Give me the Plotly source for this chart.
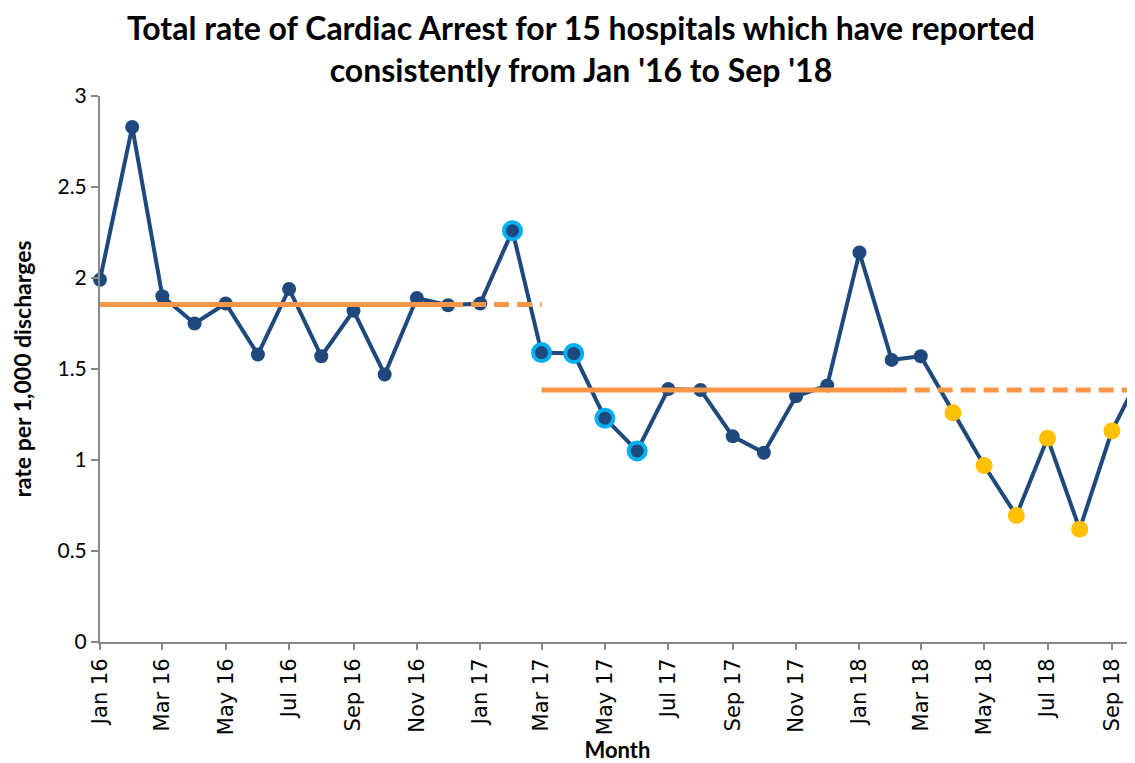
import pandas as pd
import plotly.graph_objects as go

# ---- data ----
months = list(pd.date_range("2016-01-01", "2018-10-01", freq="MS"))
rates = [1.99, 2.83, 1.90, 1.75, 1.86, 1.58, 1.94, 1.57, 1.82, 1.47, 1.89, 1.85,
         1.86, 2.26, 1.59, 1.585, 1.23, 1.05, 1.39, 1.385, 1.13, 1.04, 1.35, 1.41,
         2.14, 1.55, 1.57, 1.26, 0.97, 0.695, 1.12, 0.62, 1.16, 1.50]
cyan_months = ["2017-02", "2017-03", "2017-04", "2017-05", "2017-06"]
gold_months = ["2018-04", "2018-05", "2018-06", "2018-07", "2018-08", "2018-09"]

mean1 = 1.855
mean1_solid = ["2016-01", "2016-12"]
mean1_dash = ["2016-12", "2017-03"]
mean2 = 1.385
mean2_solid = ["2017-03", "2018-02"]
mean2_dash = ["2018-02", "2018-10"]

y_ticks = [0, 0.5, 1, 1.5, 2, 2.5, 3]
y_tick_labels = ["0", "0.5", "1", "1.5", "2", "2.5", "3"]

title_text = ("Total rate of Cardiac Arrest for 15 hospitals which have reported<br>"
              "consistently from Jan '16 to Sep '18")

BLUE = "#1F497D"
ORANGE = "#F79646"
CYAN = "#00B0F0"
GOLD = "#FFC000"

def pick(keys):
    xs, ys = [], []
    for m, r in zip(months, rates):
        if m.strftime("%Y-%m") in keys:
            xs.append(m)
            ys.append(r)
    return xs, ys

def seg(keys):
    return [pd.Timestamp(k + "-01") for k in keys]

fig = go.Figure()

fig.add_trace(go.Scatter(x=months, y=rates, mode="lines+markers",
                         line=dict(color=BLUE, width=4),
                         marker=dict(color=BLUE, size=14), cliponaxis=False,
                         hoverinfo="x+y", showlegend=False))

fig.add_trace(go.Scatter(x=seg(mean1_solid), y=[mean1, mean1], mode="lines",
                         line=dict(color=ORANGE, width=5), showlegend=False))
fig.add_trace(go.Scatter(x=seg(mean1_dash), y=[mean1, mean1], mode="lines",
                         line=dict(color=ORANGE, width=5, dash="15px,8px"), showlegend=False))
fig.add_trace(go.Scatter(x=seg(mean2_solid), y=[mean2, mean2], mode="lines",
                         line=dict(color=ORANGE, width=5), showlegend=False))
fig.add_trace(go.Scatter(x=seg(mean2_dash), y=[mean2, mean2], mode="lines",
                         line=dict(color=ORANGE, width=5, dash="15px,8px"), showlegend=False))

cx, cy = pick(cyan_months)
fig.add_trace(go.Scatter(x=cx, y=cy, mode="markers",
                         marker=dict(color=BLUE, size=17, line=dict(color=CYAN, width=4)),
                         showlegend=False))
gx, gy = pick(gold_months)
fig.add_trace(go.Scatter(x=gx, y=gy, mode="markers",
                         marker=dict(color=GOLD, size=17, line=dict(width=0)),
                         showlegend=False))

# page body has an 8px margin, so the figure is sized/positioned to compensate
fig.update_layout(
    width=1127, height=755,
    margin=dict(l=92, r=0, t=88, b=121),
    paper_bgcolor="white", plot_bgcolor="white",
    title=dict(text="<b>" + title_text + "</b>", x=0.5084, xanchor="center",
               y=0.957, yanchor="top", yref="container",
               font=dict(family="Lato, sans-serif", size=32, color="black")),
)

fig.update_xaxes(
    type="date", range=["2016-01-01", "2018-09-23 05:00"], automargin=False,
    tickmode="linear", tick0="2016-01-01", dtick="M2", tickformat="%b %y",
    tickangle=-90, ticks="outside", ticklen=6, tickcolor="#888888", tickwidth=2,
    showline=True, linecolor="#888888", linewidth=2, showgrid=False, zeroline=False,
    tickfont=dict(family="DejaVu Sans", size=21, color="black"),
    title=dict(text="<b>Month</b>", standoff=12,
               font=dict(family="Lato, sans-serif", size=22, color="black")),
)
fig.update_yaxes(
    range=[0, 3], tickmode="array", tickvals=y_ticks, ticktext=y_tick_labels,
    automargin=False,
    ticks="outside", ticklen=7, tickcolor="#888888", tickwidth=2,
    showline=True, linecolor="#888888", linewidth=2, showgrid=False, zeroline=False,
    tickfont=dict(family="Lato, sans-serif", size=21, color="black"),
    title=dict(text="<b>rate per 1,000 discharges</b>", standoff=22,
               font=dict(family="Lato, sans-serif", size=23, color="black")),
)

fig.write_html("out.html")
